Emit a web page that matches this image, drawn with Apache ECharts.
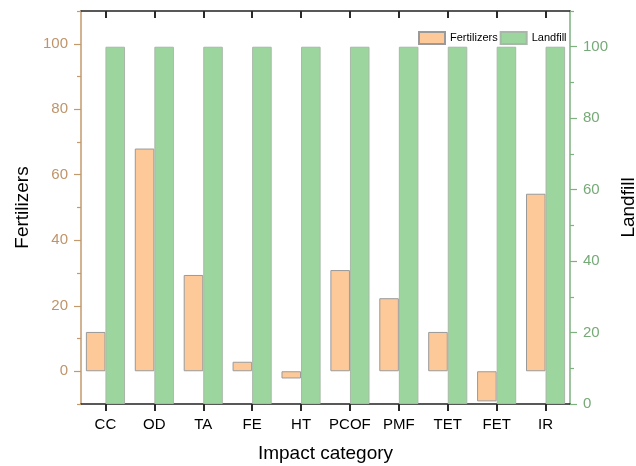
<!DOCTYPE html>
<html>
<head>
<meta charset="utf-8">
<script src="https://cdn.jsdelivr.net/npm/echarts@6/dist/echarts.min.js"></script>
<style>html,body{margin:0;padding:0;background:#fff;}#c{width:636px;height:466px;}</style>
</head>
<body>
<div id="c"></div>
<script>
var categories = ['CC','OD','TA','FE','HT','PCOF','PMF','TET','FET','IR'];
var fertilizers = [12, 68, 29.4, 2.9, -2.2, 30.9, 22.3, 12, -9.2, 54.2];
var landfill = [100, 100, 100, 100, 100, 100, 100, 100, 100, 100];
var leftMajorTicks = [0, 20, 40, 60, 80, 100];
var leftMinorTicks = [-10, 10, 30, 50, 70, 90, 110];
var rightMajorTicks = [0, 20, 40, 60, 80, 100];
var rightMinorTicks = [10, 30, 50, 70, 90, 110];

var FONT = '"Liberation Sans", Arial, sans-serif';
var brown = '#C29A6E', brownText = '#BF946A';
var green = '#7EB17F', greenText = '#76AA77';
var n = categories.length;
var centerTicks = categories.map(function (c, i) { return i + 0.5; });

var chart = echarts.init(document.getElementById('c'), null, {renderer: 'canvas'});
var grid = {left: 81, right: 66, top: 11, bottom: 62, containLabel: false, outerBoundsMode: 'none'};
chart.setOption({
  animation: false,
  grid: grid,
  legend: {
    left: 413, top: 26, itemWidth: 26, itemHeight: 12, itemGap: 2,
    icon: 'rect',
    textStyle: {fontFamily: FONT, fontSize: 11, color: '#000'},
    data: ['Fertilizers', 'Landfill']
  },
  xAxis: [
    {type: 'category', data: categories, position: 'bottom',
     name: 'Impact category', nameLocation: 'middle', nameGap: 40,
     nameTextStyle: {fontFamily: FONT, fontSize: 19, color: '#000'},
     axisLine: {show: true, onZero: false, lineStyle: {color: '#222', width: 1.5}},
     axisTick: {show: true, alignWithLabel: true, length: 7, lineStyle: {color: '#2a2a2a', width: 2}},
     axisLabel: {interval: 0, fontFamily: FONT, fontSize: 15, color: '#000', margin: 13}},
    {type: 'value', min: 0, max: n, position: 'top',
     axisLine: {show: true, onZero: false, lineStyle: {color: '#222', width: 1.5}},
     axisTick: {show: true, inside: true, length: 7, customValues: centerTicks, lineStyle: {color: '#2a2a2a', width: 2}},
     axisLabel: {show: false}, splitLine: {show: false}}
  ],
  yAxis: [
    {type: 'value', min: -10, max: 110, position: 'left',
     name: 'Fertilizers', nameLocation: 'middle', nameGap: 46,
     nameTextStyle: {fontFamily: FONT, fontSize: 19, color: '#000'},
     axisLine: {show: true, onZero: false, lineStyle: {color: brown, width: 1.5}},
     axisTick: {show: true, length: 7, customValues: leftMajorTicks, lineStyle: {color: brown, width: 1.2}},
     axisLabel: {fontFamily: FONT, fontSize: 15, color: brownText, margin: 13, customValues: leftMajorTicks},
     splitLine: {show: false}},
    {type: 'value', min: 0, max: 110, position: 'right',
     name: 'Landfill', nameLocation: 'middle', nameGap: 46,
     nameTextStyle: {fontFamily: FONT, fontSize: 19, color: '#000'},
     axisLine: {show: true, onZero: false, lineStyle: {color: green, width: 1.5}},
     axisTick: {show: true, length: 7, customValues: rightMajorTicks, lineStyle: {color: green, width: 1.2}},
     axisLabel: {fontFamily: FONT, fontSize: 15, color: greenText, margin: 13, customValues: rightMajorTicks},
     splitLine: {show: false}},
    {type: 'value', min: -10, max: 110, position: 'left',
     axisLine: {show: false, onZero: false},
     axisTick: {show: true, length: 4, customValues: leftMinorTicks, lineStyle: {color: brown, width: 1.2}},
     axisLabel: {show: false}, splitLine: {show: false}},
    {type: 'value', min: 0, max: 110, position: 'right',
     axisLine: {show: false, onZero: false},
     axisTick: {show: true, length: 4, customValues: rightMinorTicks, lineStyle: {color: green, width: 1.2}},
     axisLabel: {show: false}, splitLine: {show: false}}
  ],
  series: [
    {name: 'Fertilizers', type: 'bar', data: fertilizers, xAxisIndex: 0, yAxisIndex: 0,
     barGap: '0%', barCategoryGap: '20%',
     itemStyle: {color: '#FEC998', borderColor: '#9A9A9A', borderWidth: 1}},
    {name: 'Landfill', type: 'bar', data: landfill, xAxisIndex: 0, yAxisIndex: 1,
     barGap: '0%', barCategoryGap: '20%',
     itemStyle: {color: '#9CD69E', borderColor: '#A8B8A8', borderWidth: 1}}
  ]
});
</script>
</body>
</html>
